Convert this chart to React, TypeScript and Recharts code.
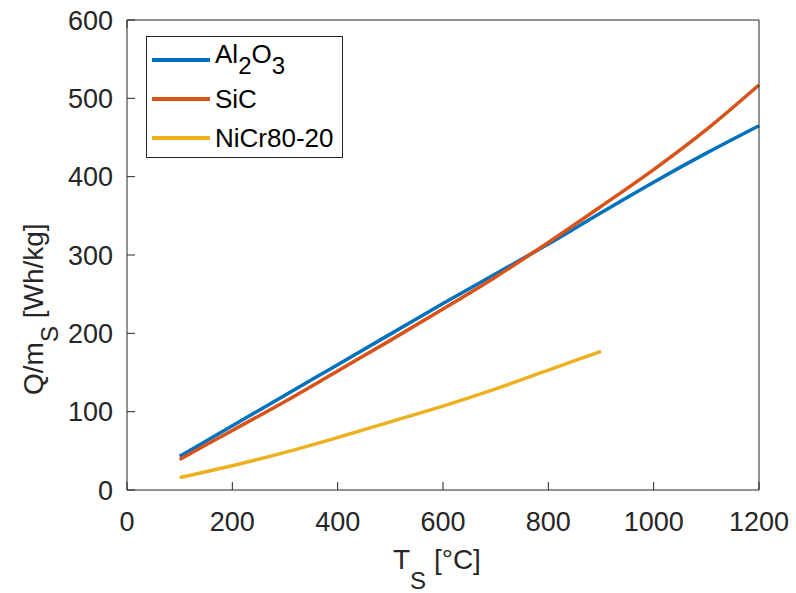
import React from 'react';
import { LineChart, Line, XAxis, YAxis } from 'recharts';

const temps = [100, 200, 300, 400, 500, 600, 700, 800, 900, 1000, 1100, 1200];
const al2o3 = [43, 82, 121, 160, 199, 238, 276, 314, 354, 393, 430, 465];
const sic = [39, 76, 113, 152, 191, 231, 272, 316, 362, 409, 460, 517];
const nicr = [16, 31, 48, 67, 87, 107, 129, 153, 177, null, null, null];

const xTicks = [0, 200, 400, 600, 800, 1000, 1200];
const yTicks = [0, 100, 200, 300, 400, 500, 600];

const colors = { al: '#0072BD', sic: '#D95319', nicr: '#EDB120' };
const axisColor = '#262626';
const font = '"Liberation Sans", Arial, sans-serif';

const data = temps.map((t, i) => ({ t, al: al2o3[i], sic: sic[i], nicr: nicr[i] }));

const LegendBox = () => {
  const row = (color: string, label: React.ReactNode) => (
    <div style={{ display: 'flex', alignItems: 'center', height: 39 }}>
      <div style={{ width: 58, height: 4, background: color, marginRight: 5 }} />
      <span>{label}</span>
    </div>
  );
  const sub = { fontSize: 24, verticalAlign: -11 } as const;
  return (
    <div
      style={{
        position: 'absolute',
        left: 146,
        top: 36,
        border: '1px solid #262626',
        background: '#fff',
        width: 197,
        height: 122,
        boxSizing: 'border-box',
        padding: '3px 0 0 5px',
        fontFamily: font,
        fontSize: 26,
        color: '#000',
        lineHeight: 1,
      }}
    >
      {row(colors.al, <>Al<sub style={sub}>2</sub>O<sub style={sub}>3</sub></>)}
      {row(colors.sic, 'SiC')}
      {row(colors.nicr, 'NiCr80-20')}
    </div>
  );
};

export default function App() {
  const tickStyle = { fontSize: 27, fill: axisColor, fontFamily: font };
  return (
    <div style={{ position: 'absolute', left: 0, top: 0, width: 796, height: 593, background: '#fff' }}>
      <LineChart width={796} height={593} data={data} margin={{ top: 19, right: 36, bottom: 43, left: 67 }}>
        <XAxis
          dataKey="t"
          type="number"
          domain={[0, 1200]}
          ticks={xTicks}
          tickSize={-8}
          tickMargin={30}
          height={60}
          stroke={axisColor}
          tick={tickStyle}
          interval={0}
        />
        <XAxis
          xAxisId="top"
          orientation="top"
          type="number"
          domain={[0, 1200]}
          ticks={xTicks}
          tickSize={-8}
          height={1}
          stroke={axisColor}
          tickFormatter={() => ''}
          interval={0}
        />
        <YAxis
          type="number"
          domain={[0, 600]}
          ticks={yTicks}
          tickSize={-8}
          tickMargin={22}
          width={60}
          stroke={axisColor}
          tick={tickStyle}
          interval={0}
        />
        <YAxis
          yAxisId="right"
          orientation="right"
          type="number"
          domain={[0, 600]}
          ticks={yTicks}
          tickSize={-8}
          width={1}
          stroke={axisColor}
          tickFormatter={() => ''}
          interval={0}
        />
        <Line dataKey="al" name="Al2O3" stroke={colors.al} strokeWidth={3.5} dot={false} type="monotone" isAnimationActive={false} />
        <Line dataKey="sic" name="SiC" stroke={colors.sic} strokeWidth={3.5} dot={false} type="monotone" isAnimationActive={false} />
        <Line dataKey="nicr" name="NiCr80-20" stroke={colors.nicr} strokeWidth={3.5} dot={false} type="monotone" isAnimationActive={false} />
      </LineChart>
      <LegendBox />
      <svg width={796} height={593} style={{ position: 'absolute', left: 0, top: 0, pointerEvents: 'none' }}>
        <text x={393} y={569} fontFamily={font} fontSize={28} fill={axisColor}>
          T<tspan fontSize={24} dy={20}>S</tspan>
          <tspan dy={-20}> [°C]</tspan>
        </text>
        <text x={43} y={395} transform="rotate(-90, 43, 395)" fontFamily={font} fontSize={28} fill={axisColor}>
          Q/m<tspan fontSize={24} dy={15}>S</tspan>
          <tspan dy={-15}> [Wh/kg]</tspan>
        </text>
      </svg>
    </div>
  );
}
